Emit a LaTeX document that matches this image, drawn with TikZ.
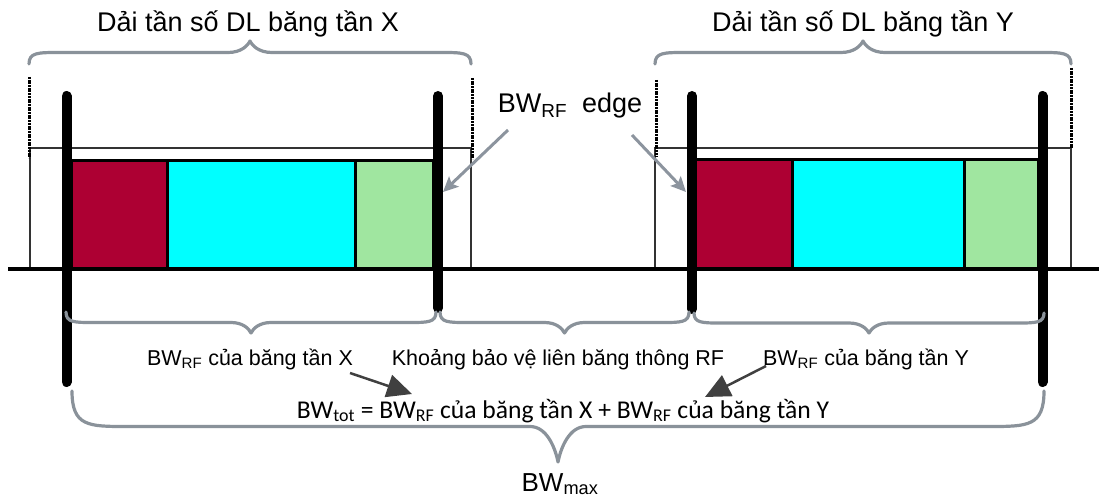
\documentclass[tikz,border=0pt]{standalone}
\usepackage{fontspec}
\setmainfont{Liberation Sans}
\newfontfamily\carlito{Carlito}
\usetikzlibrary{arrows.meta}
\definecolor{bred}{HTML}{AD0033}
\definecolor{bcyan}{HTML}{00FFFF}
\definecolor{bgreen}{HTML}{A0E6A0}
\definecolor{bracegray}{HTML}{8A929A}
\definecolor{arrgray}{HTML}{8C949E}
\definecolor{darkarr}{HTML}{404040}
\newcommand\obrace[6]{%
  \pgfmathsetmacro\bxm{(#1+#2)/2}%
  \pgfmathsetmacro\bym{#3+(#4)/2}%
  \pgfmathsetmacro\byt{#3+(#4)}%
  \pgfmathsetmacro\byq{#3+0.8*(#4)}%
  \draw[bracestyle] (#1,#3) .. controls (#1,\bym) and (#1+#5*0.3,\bym) .. (#1+#5,\bym)
    -- (\bxm-#6,\bym) .. controls (\bxm-#6*0.4,\bym) and (\bxm-#6*0.1,\byq) .. (\bxm,\byt)
    .. controls (\bxm+#6*0.1,\byq) and (\bxm+#6*0.4,\bym) .. (\bxm+#6,\bym)
    -- (#2-#5,\bym) .. controls (#2-#5*0.3,\bym) and (#2,\bym) .. (#2,#3);
}
\begin{document}
\begin{tikzpicture}[x=1pt,y=-1pt,
  thinline/.style={draw=black!80, line width=1.1pt},
  dotline/.style={draw=black, line width=3pt, dash pattern=on 2pt off 0.7pt},
  boxline/.style={draw=black, line width=3pt},
  bar/.style={draw=black, line width=10pt, line cap=round},
  bracestyle/.style={draw=bracegray, line width=3.2pt, line cap=round, line join=round},
  grayarrow/.style={draw=arrgray, line width=3pt, -{Stealth[length=15pt,width=14pt,inset=3pt]}},
  darkarrow/.style={draw=darkarr, line width=2.5pt, -{Triangle[length=25pt,width=23pt]}},
  title/.style={inner sep=0pt, anchor=base, font=\fontsize{27}{30}\selectfont},
  lbl/.style={inner sep=0pt, anchor=base, font=\fontsize{21.5}{25}\selectfont},
  form/.style={inner sep=0pt, anchor=base, font=\carlito\fontsize{25.6}{30}\selectfont}]
\useasboundingbox (0,0) rectangle (1099,497);
% thin band outlines
\draw[thinline] (30,269) -- (30,148) -- (471,148) -- (471,269);
\draw[thinline] (655,269) -- (655,148) -- (1071,148) -- (1071,269);
% dotted tops
\draw[dotline] (29,77) -- (29,158);
\draw[dotline] (472,78) -- (472,159);
\draw[dotline] (656,80) -- (656,157);
\draw[dotline] (1071,68) -- (1071,148);
% coloured blocks
\draw[boxline, fill=bred] (71,161) rectangle (167,268);
\draw[boxline, fill=bcyan] (167,161) rectangle (355,268);
\draw[boxline, fill=bgreen] (355,161) rectangle (433,268);
\draw[boxline, fill=bred] (692,160) rectangle (792,268);
\draw[boxline, fill=bcyan] (792,160) rectangle (964,268);
\draw[boxline, fill=bgreen] (964,160) rectangle (1038,268);
% baseline
\draw[draw=black, line width=3.5pt] (8,269) -- (1099,269);
% thick bars
\draw[bar] (66.5,96) -- (66.5,382);
\draw[bar] (438,96) -- (438,308);
\draw[bar] (692,96) -- (692,309);
\draw[bar] (1042.5,96) -- (1042.5,382);
% braces
\obrace{29}{471}{64}{-23}{30}{22}
\obrace{655}{1071}{64}{-23}{30}{22}
\obrace{66}{436}{312}{21}{27}{20}
\obrace{440}{689}{312}{21}{27}{20}
\obrace{694}{1044}{313}{20}{27}{20}
\obrace{72}{1044}{391}{71}{55}{28}
% texts
\node[title] (tx) at (248,32) {Dải tần số DL băng tần X};
\node[title] (ty) at (863,32) {Dải tần số DL băng tần Y};
\node[title] (edge) at (570,113) {BW\textsubscript{RF}\ \ edge};
\node[lbl] (lx) at (250,365) {BW\textsubscript{RF} của băng tần X};
\node[lbl] (lg) at (558,365) {Khoảng bảo vệ liên băng thông RF};
\node[lbl] (ly) at (866,365) {BW\textsubscript{RF} của băng tần Y};
\node[form] (tot) at (563,418) {BW\textsubscript{tot} = BW\textsubscript{RF} của băng tần X + BW\textsubscript{RF} của băng tần Y};
\node[title, font=\fontsize{26}{30}\selectfont] (max) at (560,491) {BW\textsubscript{max}};
% arrows
\coordinate (e1s) at (508,130);
\coordinate (e1t) at (443,192);
\coordinate (e2s) at (632,135);
\coordinate (e2t) at (686,192);
\draw[grayarrow] (e1s) -- (e1t);
\draw[grayarrow] (e2s) -- (e2t);
\coordinate (a1s) at (350,373);
\coordinate (a1t) at (412,394);
\coordinate (a2s) at (766,366);
\coordinate (a2t) at (705,397);
\draw[darkarrow] (a1s) -- (a1t);
\draw[darkarrow] (a2s) -- (a2t);
\end{tikzpicture}
\end{document}
